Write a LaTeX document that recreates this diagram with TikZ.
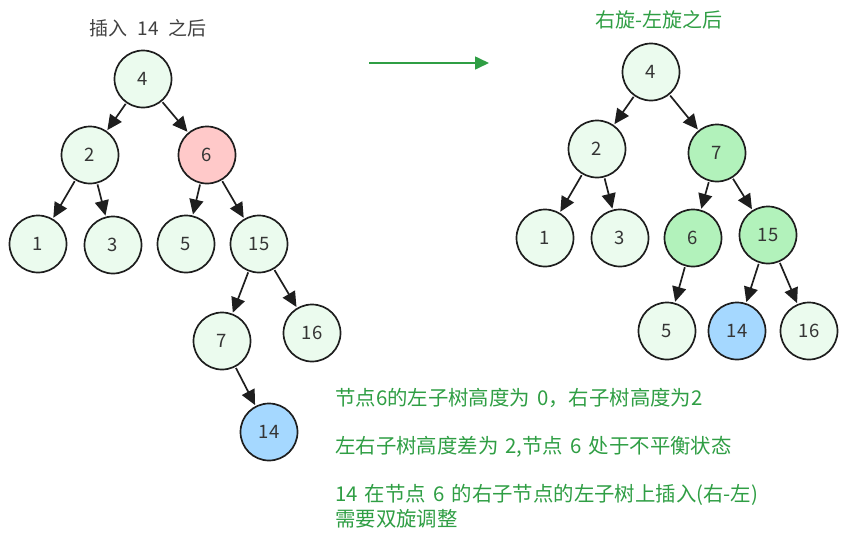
\documentclass[tikz,border=0pt]{standalone}
\usepackage{fontspec}
\setmainfont{Noto Sans CJK SC}
\usetikzlibrary{arrows.meta}
\definecolor{lg}{HTML}{EBFBEE}
\definecolor{pk}{HTML}{FFC9C9}
\definecolor{gr}{HTML}{B2F2BB}
\definecolor{bl}{HTML}{A5D8FF}
\definecolor{tg}{HTML}{2F9E44}
\definecolor{ink}{HTML}{1E1E1E}
\newcommand{\nsp}{\hspace{0.35em}}
\newcommand{\tsp}{\hspace{0.55em}}
\begin{document}
\begin{tikzpicture}[x=1pt,y=-1pt,
  tn/.style={circle, draw=ink, line width=1.7pt, minimum size=57pt, inner sep=0pt,
    font=\fontsize{18.5}{18.5}\selectfont, text=ink!90},
  ed/.style={draw=ink, line width=1.7pt, -{Triangle[length=15pt,width=14pt]}, shorten <=1pt, shorten >=1pt},
  note/.style={anchor=west, inner sep=0pt, text=tg, font=\fontsize{20.4}{25}\selectfont, align=left},
]
\useasboundingbox (0,0) rectangle (847,547);
% left tree
\node[tn,fill=lg] (a4) at (143,79) {4};
\node[tn,fill=lg] (a2) at (90,155) {2};
\node[tn,fill=pk] (a6) at (207,155) {6};
\node[tn,fill=lg] (a1) at (38,244) {1};
\node[tn,fill=lg] (a3) at (113,245) {3};
\node[tn,fill=lg] (a5) at (186,244) {5};
\node[tn,fill=lg] (a15) at (259,244) {15};
\node[tn,fill=lg] (a7) at (222,341) {7};
\node[tn,fill=lg] (a16) at (312,333) {16};
\node[tn,fill=bl] (a14) at (269,432) {14};
\draw[ed] (a4) -- (a2);
\draw[ed] (a4) -- (a6);
\draw[ed] (a2) -- (a1);
\draw[ed] (a2) -- (a3);
\draw[ed] (a6) -- (a5);
\draw[ed] (a6) -- (a15);
\draw[ed] (a15) -- (a7);
\draw[ed] (a15) -- (a16);
\draw[ed] (a7) -- (a14);
% right tree
\node[tn,fill=lg] (b4) at (651,72) {4};
\node[tn,fill=lg] (b2) at (597,149) {2};
\node[tn,fill=gr] (b7) at (717,153) {7};
\node[tn,fill=lg] (b1) at (545,238) {1};
\node[tn,fill=lg] (b3) at (620,238) {3};
\node[tn,fill=gr] (b6) at (693,238) {6};
\node[tn,fill=gr] (b15) at (768,235) {15};
\node[tn,fill=lg] (b5) at (667,331) {5};
\node[tn,fill=bl] (b14) at (737,331) {14};
\node[tn,fill=lg] (b16) at (809,331) {16};
\draw[ed] (b4) -- (b2);
\draw[ed] (b4) -- (b7);
\draw[ed] (b2) -- (b1);
\draw[ed] (b2) -- (b3);
\draw[ed] (b7) -- (b6);
\draw[ed] (b7) -- (b15);
\draw[ed] (b6) -- (b5);
\draw[ed] (b15) -- (b14);
\draw[ed] (b15) -- (b16);
% titles
\node[text=ink!85, font=\fontsize{19}{19}\selectfont] (t1) at (148,28) {插入\tsp 14\tsp 之后};
\node[text=tg, font=\fontsize{20}{20}\selectfont] (t2) at (659,20) {右旋-左旋之后};
% arrow
\coordinate (p1) at (369,63);
\coordinate (p2) at (489,63);
\draw[tg, line width=1.6pt, -{Triangle[length=14pt,width=13pt]}] (p1) -- (p2);
% notes
\node[note] (n1) at (335,398) {节点6的左子树高度为\nsp 0，右子树高度为2};
\node[note] (n2) at (335,447) {左右子树高度差为\nsp 2,节点\nsp 6\nsp 处于不平衡状态};
\node[note, anchor=north west] (n3) at (335,484) {14\nsp 在节点\nsp 6\nsp 的右子节点的左子树上插入(右-左)\\需要双旋调整};
\end{tikzpicture}
\end{document}
